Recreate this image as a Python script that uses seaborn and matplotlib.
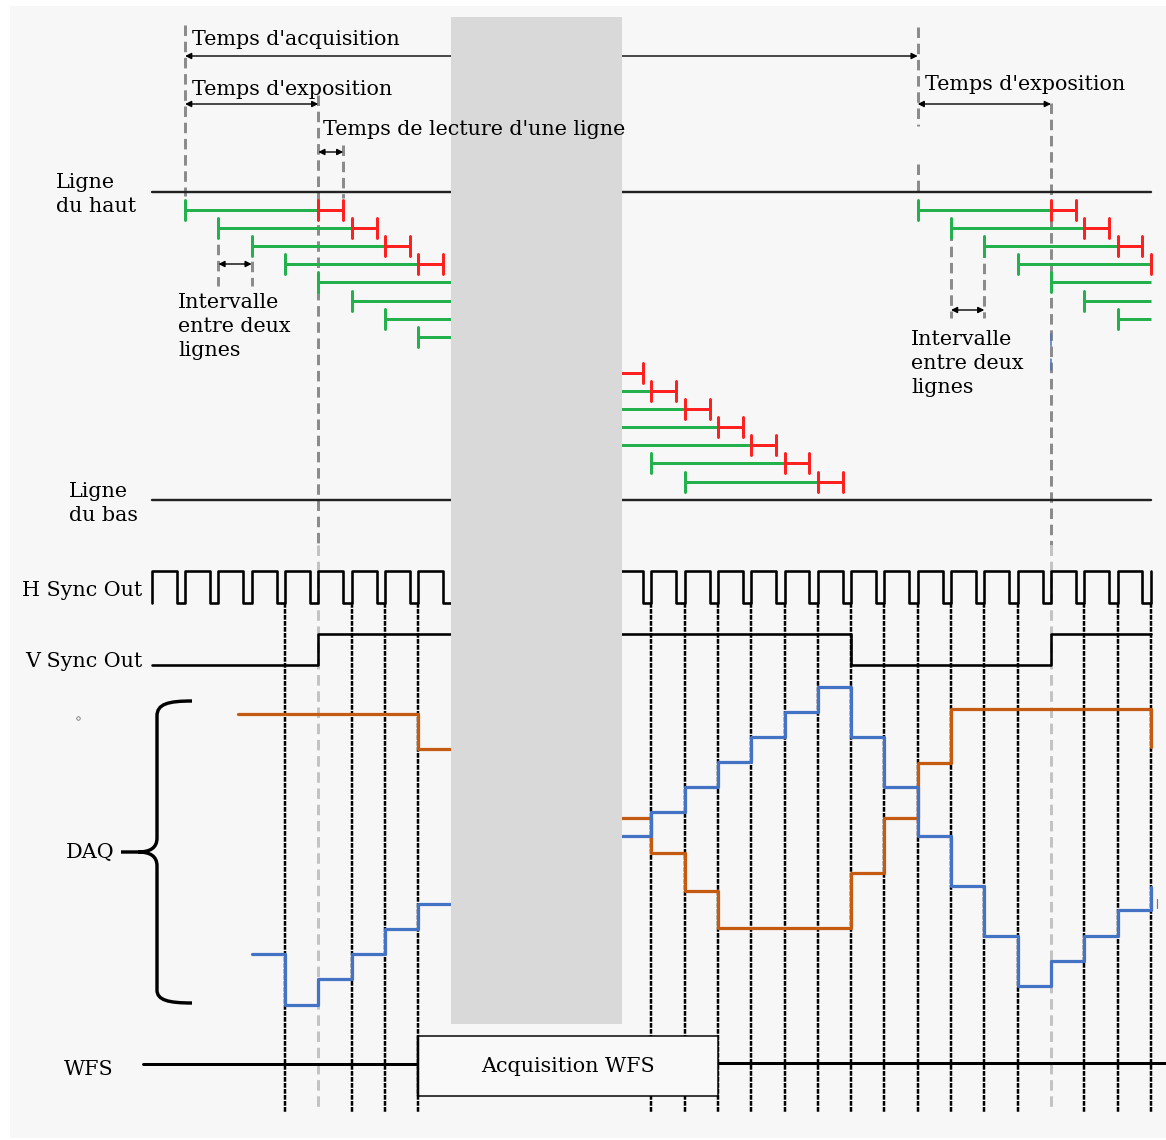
import numpy as np
import pandas as pd
import matplotlib
matplotlib.use("Agg")
import matplotlib.pyplot as plt
import seaborn as sns
from matplotlib.patches import Rectangle, PathPatch
from matplotlib.path import Path

sns.set_theme(style="white")
plt.rcParams["font.family"] = ["DejaVu Serif", "DejaVu Sans"]

# ---------------- data (time in line periods) ----------------
# rows of the rolling shutter: start time of each line's exposure
rows_frame1 = [-3, -2, -1, 0, 1, 2, 3, 4, 5, 6, 7, 8, 9, 10, 11, 12]
rows_frame2 = [19, 20, 21, 22, 23, 24, 25]
exposure_len = 4.0
readout_len = 0.75
t_end = 26.0

# H sync rising edges and low-pulse width
hsync_edges = [-4, -3, -2, -1, 0, 1, 2, 3, 4, 5, 6, 7, 8, 9, 10, 11, 12, 13,
               14, 15, 16, 17, 18, 19, 20, 21, 22, 23, 24, 25, 26]
hsync_low_width = 0.25

# V sync transitions: times and state (0 low, 1 high)
vsync_t = [-4, 1, 1, 17, 17, 23, 23, 26]
vsync_s = [0, 0, 1, 1, 0, 0, 1, 1]

# DAQ outputs (step values, diagram level units, larger = lower on page)
daq_blue_t = [-1, 0, 1, 2, 3, 4, 5, 10, 11, 12, 13, 14, 15, 16, 17, 18, 19,
              20, 21, 22, 23, 24, 25, 26]
daq_blue_v = [954, 1005, 979, 954, 929, 904, np.nan, 836, 812, 787, 762, 737,
              712, 687, 737, 787, 836, 886, 936, 986, 961, 936, 910, 887]
daq_orange_t = [-1.4, 4, 5, 10, 11, 12, 13, 17, 18, 19, 20, 26]
daq_orange_v = [714, 749, np.nan, 818, 853, 891, 928, 873, 818, 763, 709, 747]

# sampling clock lines (dashed) and exposure markers
clock_lines = [k for k in hsync_edges if k >= 0 and k not in (1, 23)
               and not (5 <= k <= 10)]
wfs_window = (4, 13)
hidden_window = (4.98, 10.12)

# ---------------- layout helpers ----------------
W, H = 1166, 1140
X0, P = 285.0, 33.3


def T(xpx):
    return (xpx - X0) / P


fig = plt.figure(figsize=(W / 100, H / 100), dpi=100)
fig.patch.set_facecolor("white")
ax = fig.add_axes([0, 0, 1, 1])
ax.set_xlim(T(0), T(W))
ax.set_ylim(H, 0)
ax.axis("off")

# panel background
ax.add_patch(Rectangle((T(10), 6), T(1166) - T(10), 1132, facecolor="#f7f7f7",
                       edgecolor="none", zorder=0))

PX = 0.72  # points per pixel
GREEN = "#22b14c"
RED = "#ff2020"
ORANGE = "#c55a11"
BLUE = "#4472c4"

# ---------------- top / bottom line markers ----------------
for yl in (192, 500):
    ax.plot([-4, t_end], [yl, yl], color="#222222", lw=2.4 * PX, zorder=3)

row_y0, row_dy, tick_h = 210.0, 18.1, 10.0


def draw_rows(starts, clip):
    for i, s in enumerate(starts):
        y = row_y0 + i * row_dy
        e = s + exposure_len
        r = e + readout_len
        ax.plot([s, min(e, clip)], [y, y], color=GREEN, lw=3 * PX,
                solid_capstyle="butt", zorder=4)
        ax.plot([s, s], [y - tick_h, y + tick_h], color=GREEN, lw=3 * PX, zorder=4)
        if e <= clip:
            ax.plot([e, min(r, clip)], [y, y], color=RED, lw=3 * PX,
                    solid_capstyle="butt", zorder=4)
            ax.plot([e, e], [y - tick_h, y + tick_h], color=RED, lw=3 * PX, zorder=4)
        if r <= clip:
            ax.plot([r, r], [y - tick_h, y + tick_h], color=RED, lw=3 * PX, zorder=4)


draw_rows(rows_frame1, t_end)
draw_rows(rows_frame2, t_end)

# ---------------- grey dashed exposure markers ----------------
GD = "#8c8c8c"
GL = "#c3c3c3"
gkw = dict(lw=3 * PX, linestyle=(0, (3.5, 1.9)), zorder=2)
ax.plot([-3, -3], [25, 196], color=GD, **gkw)
ax.plot([1, 1], [95, 545], color=GD, **gkw)
ax.plot([1, 1], [545, 1112], color=GL, **gkw)
ax.plot([1.75, 1.75], [145, 198], color=GD, **gkw)
ax.plot([-2, -2], [228, 286], color=GD, **gkw)
ax.plot([-1, -1], [245, 286], color=GD, **gkw)
ax.plot([19, 19], [27, 126], color=GD, **gkw)
ax.plot([19, 19], [164, 196], color=GD, **gkw)
ax.plot([23, 23], [103, 545], color=GD, **gkw)
ax.plot([23, 23], [545, 1112], color=GL, **gkw)
ax.plot([20, 20], [230, 318], color=GD, **gkw)
ax.plot([21, 21], [247, 318], color=GD, **gkw)

# ---------------- arrows ----------------
def darrow(t1, t2, y, z=3):
    ax.annotate("", xy=(t2, y), xytext=(t1, y),
                arrowprops=dict(arrowstyle="<|-|>", color="black", lw=1.4 * PX,
                                mutation_scale=9, shrinkA=0, shrinkB=0),
                zorder=z)


darrow(-3, 19, 56)
darrow(-3, 1, 104)
darrow(1, 1.75, 152)
darrow(-2, -1, 264)
darrow(19, 23, 104)
darrow(20, 21, 310)

# ---------------- H sync / V sync ----------------
hx, hy = [hsync_edges[0]], [603]
for j, k in enumerate(hsync_edges):
    hx += [k, k]
    hy += [603, 571]
    if j < len(hsync_edges) - 1:
        f = hsync_edges[j + 1] - hsync_low_width
        hx += [f, f]
        hy += [571, 603]
hs = pd.DataFrame({"t": hx, "y": hy})
sns.lineplot(data=hs, x="t", y="y", sort=False, estimator=None, color="black",
             lw=2.6 * PX, ax=ax, zorder=5)

vs = pd.DataFrame({"t": vsync_t, "y": [665 if s == 0 else 634 for s in vsync_s]})
sns.lineplot(data=vs, x="t", y="y", sort=False, estimator=None, color="black",
             lw=2.6 * PX, ax=ax, zorder=5)

# ---------------- sampling clock dashed lines ----------------
for k in clock_lines:
    ax.plot([k, k], [603, 1112], color="black", lw=2.5 * PX,
            linestyle=(0, (1.9, 0.5)), zorder=2)

# ---------------- DAQ staircases ----------------
def stairs(ts, vs_, color):
    df = pd.DataFrame({"t": ts, "v": vs_})
    grp = df["v"].isna().cumsum()
    for _, seg in df.groupby(grp):
        seg = seg.dropna()
        if len(seg) == 0:
            continue
        last = seg.index[-1]
        if last + 1 < len(df) and np.isnan(df.loc[last + 1, "v"]):
            seg = pd.concat([seg, pd.DataFrame({"t": [df.loc[last + 1, "t"]],
                                                "v": [seg["v"].iloc[-1]]})])
        sns.lineplot(data=seg, x="t", y="v", sort=False, estimator=None,
                     drawstyle="steps-post", color=color, lw=3.2 * PX, ax=ax, zorder=6)


stairs(daq_orange_t, daq_orange_v, ORANGE)
stairs(daq_blue_t, daq_blue_v, BLUE)

# brace
bx = T
verts = [(bx(192), 701), (bx(168), 701), (bx(157), 704), (bx(157), 716),
         (bx(157), 838),
         (bx(157), 848), (bx(150), 852), (bx(138), 852),
         (bx(121), 852),
         (bx(138), 852),
         (bx(150), 852), (bx(157), 856), (bx(157), 866),
         (bx(157), 990),
         (bx(157), 1000), (bx(168), 1003), (bx(192), 1003)]
codes = [Path.MOVETO, Path.CURVE4, Path.CURVE4, Path.CURVE4,
         Path.LINETO,
         Path.CURVE4, Path.CURVE4, Path.CURVE4,
         Path.LINETO,
         Path.MOVETO,
         Path.CURVE4, Path.CURVE4, Path.CURVE4,
         Path.LINETO,
         Path.CURVE4, Path.CURVE4, Path.CURVE4]
ax.add_patch(PathPatch(Path(verts, codes), facecolor="none", edgecolor="black",
                       lw=3.4 * PX, zorder=5))

# ---------------- WFS ----------------
ax.plot([T(143), wfs_window[0]], [1064, 1064], color="black", lw=3 * PX, zorder=5)
ax.plot([wfs_window[1], T(W)], [1063, 1063], color="black", lw=3 * PX, zorder=5)
ax.add_patch(Rectangle((wfs_window[0], 1036), wfs_window[1] - wfs_window[0], 60,
                       facecolor="#f9f9f9", edgecolor="black", lw=1.5 * PX, zorder=7))
ax.plot([wfs_window[0], wfs_window[0]], [1036, 1096], color="black", lw=2.5 * PX, zorder=8)

# ---------------- hidden (grey) band ----------------
ax.add_patch(Rectangle((hidden_window[0], 17), hidden_window[1] - hidden_window[0],
                       1007, facecolor="#d9d9d9", edgecolor="none", zorder=9))

# small stray marks
ax.plot([T(78)], [718], marker="o", ms=2.5, mfc="none", mec="#777777", mew=0.6, zorder=5)
ax.plot([T(1157), T(1157)], [899, 908], color="#777777", lw=1.2 * PX, zorder=5)
ax.plot([T(1051), T(1051)], [334, 346], color=BLUE, lw=1.5 * PX, zorder=5)
ax.plot([T(1051), T(1051)], [359, 370], color=BLUE, lw=1.5 * PX, zorder=5)

# ---------------- texts ----------------
FS = 14.9
tk = dict(fontsize=FS, color="black", va="baseline", ha="left", zorder=10)
ax.text(T(192), 45, "Temps d'acquisition", **tk)
ax.text(T(192), 95, "Temps d'exposition", **tk)
ax.text(T(323), 135, "Temps de lecture d'une ligne", **tk)
ax.text(T(925), 90, "Temps d'exposition", **tk)
ax.text(T(56), 188, "Ligne", **tk)
ax.text(T(56), 212, "du haut", **tk)
ax.text(T(69), 497, "Ligne", **tk)
ax.text(T(69), 521, "du bas", **tk)
ax.text(T(178), 308, "Intervalle", **tk)
ax.text(T(178), 332, "entre deux", **tk)
ax.text(T(178), 356, "lignes", **tk)
ax.text(T(911), 345, "Intervalle", **tk)
ax.text(T(911), 369, "entre deux", **tk)
ax.text(T(911), 393, "lignes", **tk)
ax.text(T(142), 596, "H Sync Out", **dict(tk, ha="right"))
ax.text(T(142), 667, "V Sync Out", **dict(tk, ha="right"))
ax.text(T(114), 858, "DAQ", **dict(tk, ha="right"))
ax.text(T(113), 1075, "WFS", **dict(tk, ha="right"))
ax.text((wfs_window[0] + wfs_window[1]) / 2, 1072, "Acquisition WFS",
        **dict(tk, ha="center"))

fig.savefig("out.png", dpi=100, facecolor="white")
